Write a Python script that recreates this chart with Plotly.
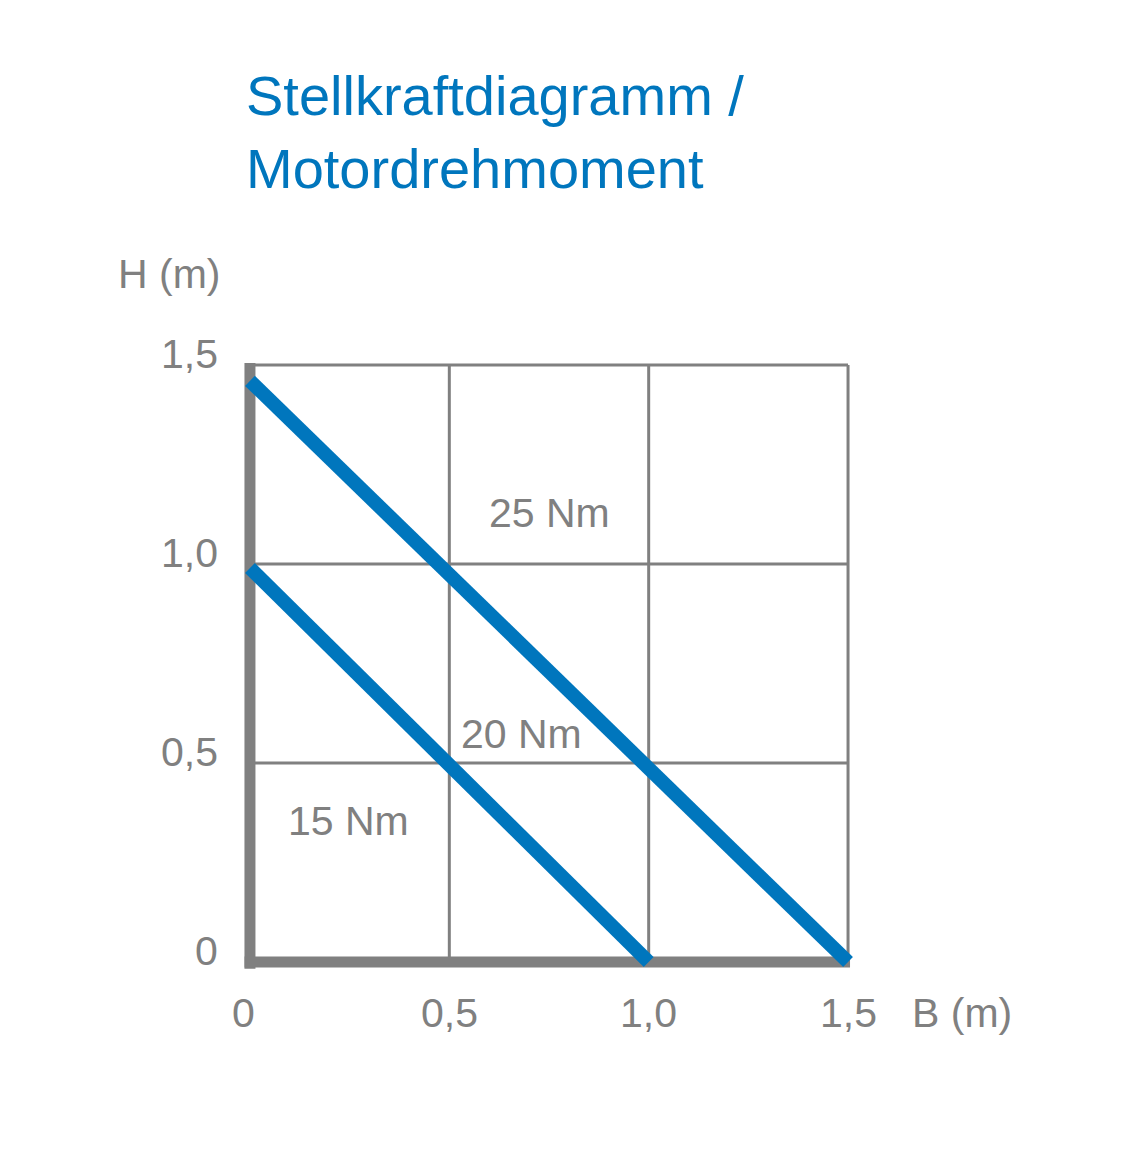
import plotly.graph_objects as go

# Stellkraftdiagramm: Breite B (m) gegen Höhe H (m)
b_line_low = [0.0, 1.0]
h_line_low = [0.99, 0.0]
b_line_high = [0.0, 1.5]
h_line_high = [1.46, 0.0]

tick_vals = [0.0, 0.5, 1.0, 1.5]
x_tick_text = ["0", "0,5", "1,0", "1,5"]
y_tick_text = ["0", "0,5", "1,0", "1,5"]

zone_labels = ["15 Nm", "20 Nm", "25 Nm"]
zone_b = [0.246, 0.682, 0.752]
zone_h = [0.354, 0.573, 1.128]

BLUE = "#0076BD"
GRAY = "#808080"
FONT = "Liberation Sans, Arial, Helvetica, sans-serif"
TXT = 41

fig = go.Figure()
for bx, hy, nm in [(b_line_low, h_line_low, "15/20 Nm"), (b_line_high, h_line_high, "20/25 Nm")]:
    fig.add_trace(go.Scatter(x=bx, y=hy, mode="lines", name=nm,
                             line=dict(color=BLUE, width=14), hoverinfo="skip"))

shapes = []
# grid
for v in tick_vals[1:]:
    shapes.append(dict(type="line", xref="x", yref="y", x0=v, x1=v, y0=0, y1=1.5,
                       line=dict(color=GRAY, width=3), layer="below"))
    shapes.append(dict(type="line", xref="x", yref="y", x0=0, x1=1.5, y0=v, y1=v,
                       line=dict(color=GRAY, width=3), layer="below"))
# thick axes
shapes.append(dict(type="line", xref="x", yref="y", x0=0, x1=0, y0=-0.0165, y1=1.505,
                   line=dict(color=GRAY, width=11), layer="below"))
shapes.append(dict(type="line", xref="x", yref="y", x0=-0.0135, x1=1.505, y0=0, y1=0,
                   line=dict(color=GRAY, width=11), layer="below"))

annotations = []
for v, t in zip(tick_vals, x_tick_text):
    annotations.append(dict(x=v, y=0, xref="x", yref="y", text=t, showarrow=False,
                            xanchor="center", yanchor="middle",
                            xshift=-6 if v == 0 else 0, yshift=-51,
                            font=dict(size=TXT, color=GRAY, family=FONT)))
for v, t in zip(tick_vals, y_tick_text):
    annotations.append(dict(x=0, y=v, xref="x", yref="y", text=t, showarrow=False,
                            xanchor="right", yanchor="middle", xshift=-30, yshift=11,
                            font=dict(size=TXT, color=GRAY, family=FONT)))
annotations.append(dict(x=1.5, y=0, xref="x", yref="y", text="B (m)", showarrow=False,
                        xanchor="left", yanchor="middle", xshift=62, yshift=-51,
                        font=dict(size=TXT, color=GRAY, family=FONT)))
annotations.append(dict(x=0, y=1.5, xref="x", yref="y", text="H (m)", showarrow=False,
                        xanchor="right", yanchor="middle", xshift=-28, yshift=91,
                        font=dict(size=TXT, color=GRAY, family=FONT)))
for t, bx, hy in zip(zone_labels, zone_b, zone_h):
    annotations.append(dict(x=bx, y=hy, xref="x", yref="y", text=t, showarrow=False,
                            xanchor="center", yanchor="middle",
                            font=dict(size=TXT, color=GRAY, family=FONT)))

fig.update_layout(
    width=1142, height=1172,
    margin=dict(l=230, r=290, t=345, b=206),
    paper_bgcolor="white", plot_bgcolor="white",
    showlegend=False,
    title=dict(text="Stellkraftdiagramm /<br>Motordrehmoment",
               x=238 / 1142, xanchor="left", xref="container",
               y=1 - 107 / 1172, yanchor="top", yref="container",
               font=dict(size=56, color=BLUE, family=FONT)),
    xaxis=dict(range=[-0.03, 1.53], showgrid=False, zeroline=False,
               showticklabels=False, showline=False, fixedrange=True),
    yaxis=dict(range=[-0.03, 1.53], showgrid=False, zeroline=False,
               showticklabels=False, showline=False, fixedrange=True),
    shapes=shapes,
    annotations=annotations,
)

fig.write_html("out.html")
